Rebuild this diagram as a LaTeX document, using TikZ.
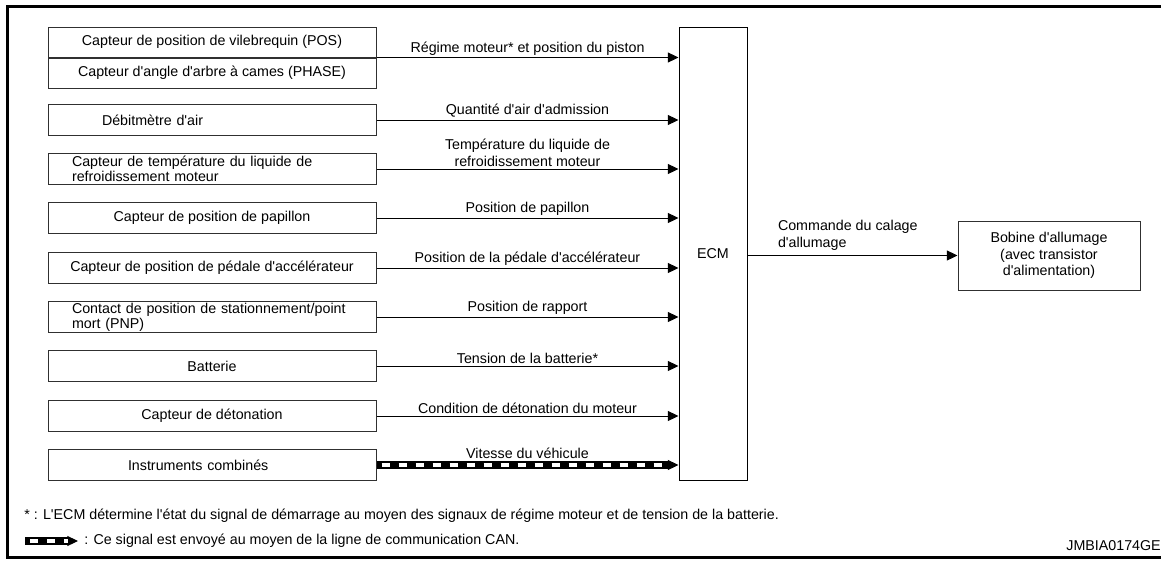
\documentclass[tikz,border=0pt]{standalone}
\usepackage{fontspec}
\setmainfont{Liberation Sans}[Ligatures=TeXOff]
\usetikzlibrary{arrows.meta,positioning,calc}
\definecolor{tinta}{HTML}{000000}
\definecolor{borde}{HTML}{303030}
\newcommand\texto{\fontsize{10.7pt}{11pt}\selectfont}
\newcommand\textoet{\fontsize{10.7pt}{12.5pt}\selectfont}

\begin{document}
\begin{tikzpicture}[x=0.75pt,y=-0.75pt,
    caja/.style={draw=borde,line width=0.75pt,minimum width=246pt,minimum height=23.25pt,
                 inner sep=0pt,align=center,font=\texto},
    etiq/.style={above,inner sep=1.5pt,align=center,font=\textoet,text=tinta},
    flecha/.style={->,line width=0.75pt,tinta},
    can/.style={line width=6pt,tinta,
                postaction={draw=white,line width=2.6pt,dash pattern=on 6pt off 6.75pt,dash phase=9pt}},
    >={Triangle[length=8pt,width=7.5pt]}]
  \useasboundingbox (0,0) rectangle (1161,561);
  % marco
  \draw[line width=2.25pt,tinta] (1161,6.5) -| (7.5,557) -- (1161,557);
  % capteurs
  \node[caja,minimum height=22.5pt] (pos) at (212,42) {Capteur de position de vilebrequin (POS)};
  \node[caja,minimum height=22.5pt,below=0pt of pos] (phase) {Capteur d'angle d'arbre à cames (PHASE)};
  \node[caja,align=left,inner xsep=40.5pt,text width=165pt] (deb) at (212,120) {Débitmètre d'air};
  \node[caja,align=left,inner xsep=18pt,text width=210pt] (temp) at (212,169)
    {Capteur de température du liquide de\\refroidissement moteur};
  \node[caja] (pap) at (212,218) {Capteur de position de papillon};
  \node[caja] (ped) at (212,268) {Capteur de position de pédale d'accélérateur};
  \node[caja,align=left,inner xsep=18pt,text width=210pt] (pnp) at (212,317)
    {Contact de position de stationnement/point\\mort (PNP)};
  \node[caja] (bat) at (212,366) {Batterie};
  \node[caja] (det) at (212,416) {Capteur de détonation};
  \node[caja,align=left,inner xsep=60pt,text width=126pt] (inst) at (212,465) {Instruments combinés};
  % ECM et bobine
  \node[draw=tinta,line width=0.75pt,minimum width=51pt,minimum height=339.75pt,
        font=\texto] (ecm) at (713,253.5) {ECM};
  \node[draw=borde,line width=0.75pt,minimum width=136.5pt,minimum height=51.75pt,
        align=center,font=\textoet] (bob) at (1049,255.5)
    {Bobine d'allumage\\(avec transistor\\d'alimentation)};
  % signaux
  \draw[flecha] (pos.south east) -- (pos.south east -| ecm.west)
    node[etiq,midway] {Régime moteur* et position du piston};
  \draw[flecha] (deb.east) -- (deb.east -| ecm.west)
    node[etiq,midway] {Quantité d'air d'admission};
  \draw[flecha] (temp.east) -- (temp.east -| ecm.west)
    node[etiq,midway] {Température du liquide de\\refroidissement moteur};
  \draw[flecha] (pap.east) -- (pap.east -| ecm.west)
    node[etiq,midway] {Position de papillon};
  \draw[flecha] (ped.east) -- (ped.east -| ecm.west)
    node[etiq,midway] {Position de la pédale d'accélérateur};
  \draw[flecha] (pnp.east) -- (pnp.east -| ecm.west)
    node[etiq,midway] {Position de rapport};
  \draw[flecha] (bat.east) -- (bat.east -| ecm.west)
    node[etiq,midway] {Tension de la batterie*};
  \draw[flecha] (det.east) -- (det.east -| ecm.west)
    node[etiq,midway] {Condition de détonation du moteur};
  \coordinate (canfin) at ($(inst.east -| ecm.west)+(-10,0)$);
  \draw[flecha] (inst.east) -- (inst.east -| ecm.west)
    node[etiq,midway,yshift=3pt] {Vitesse du véhicule};
  \draw[can] (inst.east) -- (canfin);
  \draw[flecha] (ecm.east |- bob.west) -- (bob.west)
    node[pos=0,anchor=south west,xshift=21pt,yshift=2pt,align=left,inner sep=1.5pt,
         font=\textoet] {Commande du calage\\d'allumage};
  % notes
  \node[anchor=west,inner sep=0pt,font=\texto] (nota) at (24,516)
    {* : L'ECM détermine l'état du signal de démarrage au moyen des signaux de régime moteur et de tension de la batterie.};
  \coordinate (leyA) at (25,541);
  \coordinate (leyB) at (68,541);
  \coordinate (leyC) at (78,541);
  \draw[flecha] (leyA) -- (leyC);
  \draw[can] (leyA) -- (leyB);
  \node[anchor=west,inner sep=0pt,font=\texto] (leyenda) at (84,541)
    {: Ce signal est envoyé au moyen de la ligne de communication CAN.};
  \node[anchor=east,inner sep=0pt,font=\texto] (ref) at (1161,546) {JMBIA0174GE};
\end{tikzpicture}
\end{document}
